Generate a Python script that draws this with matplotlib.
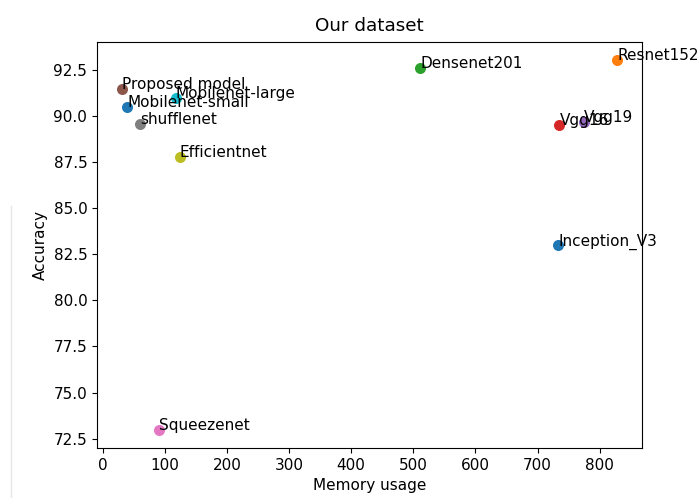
import matplotlib
matplotlib.use("Agg")
import matplotlib.pyplot as plt
from matplotlib.lines import Line2D

models = ["Inception_V3", "Resnet152", "Densenet201", "Vgg16", "Vgg19",
          "Proposed model", "Squeezenet", "shufflenet", "Efficientnet",
          "Mobilenet-large", "Mobilenet-small"]
memory = [733, 828, 511, 735, 775, 31, 91, 60, 124, 118, 40]
accuracy = [82.97, 92.99, 92.59, 89.49, 89.67, 91.45, 73.0, 89.55, 87.77, 90.96, 90.49]

plt.rcParams['font.size'] = 11
fig = plt.figure(figsize=(6.99, 4.98), dpi=100)
ax = fig.add_axes([97/699, 1 - 448/498, 545/699, 406/498])

for name, m, a in zip(models, memory, accuracy):
    ax.scatter(m, a, s=48)
    ax.annotate(name, (m, a))

ax.set_title("Our dataset", pad=8)
ax.set_xlabel("Memory usage")
ax.set_ylabel("Accuracy")

fig.add_artist(Line2D([10.7/699, 10.7/699], [0, 1 - 206/498],
                      transform=fig.transFigure, color="#e6e6e6", lw=1))

fig.savefig("out.png", dpi=100)
